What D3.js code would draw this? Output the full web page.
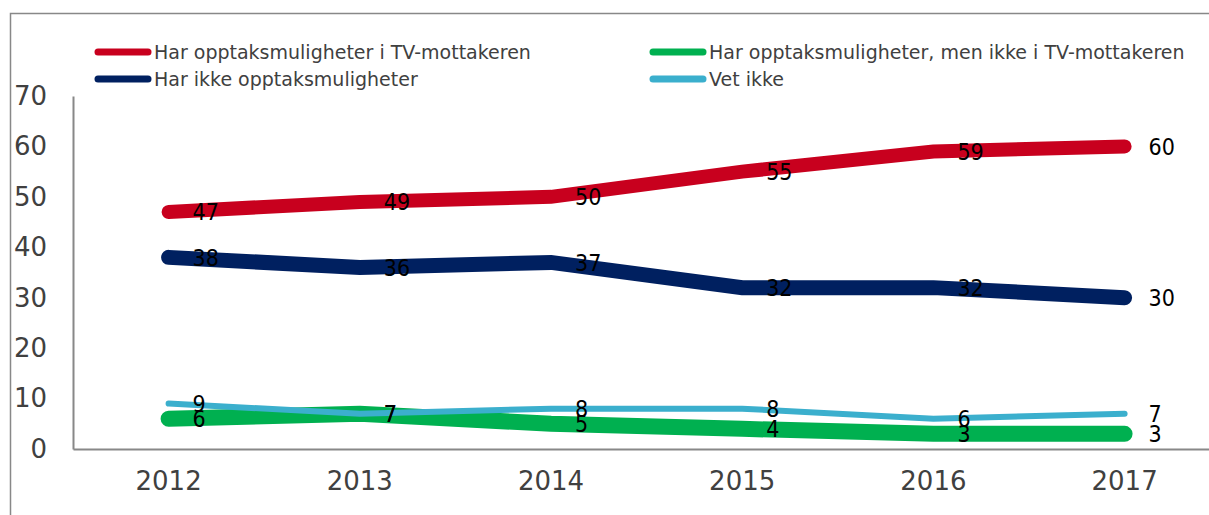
<!DOCTYPE html>
<html><head><meta charset="utf-8">
<script src="https://cdn.jsdelivr.net/npm/d3@7"></script>
<style>body{margin:0;background:#fff}svg{display:block}</style>
</head><body>
<svg id="c" width="1209" height="515"></svg>
<script>
const years = ["2012","2013","2014","2015","2016","2017"];
const seriesNames = ["Har opptaksmuligheter i TV-mottakeren","Har opptaksmuligheter, men ikke i TV-mottakeren","Har ikke opptaksmuligheter","Vet ikke"];
const redVals = [47,49,50,55,59,60];
const greenVals = [6,7,5,4,3,3];
const navyVals = [38,36,37,32,32,30];
const blueVals = [9,7,8,8,6,7];
const yTicks = [0,10,20,30,40,50,60,70];

const svg = d3.select("#c");
const font = "Verdana, 'DejaVu Sans', sans-serif";
// outer frame
svg.append("rect").attr("x",10.5).attr("y",13.5).attr("width",1220).attr("height",520)
  .attr("fill","none").attr("stroke","#888").attr("stroke-width",1.5);

const x = d3.scaleBand().domain(years).range([73, 73+6*191.2]);
const y = d3.scaleLinear().domain([0,70]).range([449, 96]);

// axes
const gy = svg.append("g").attr("transform","translate(73,0)")
  .call(d3.axisLeft(y).tickValues(yTicks).tickSize(0).tickPadding(26));
gy.select(".domain").attr("stroke","#888").attr("stroke-width",2);
gy.selectAll("text").attr("font-family",font).attr("font-size",26).attr("fill","#404040");

const gx = svg.append("g").attr("transform","translate(0,449)")
  .call(d3.axisBottom(x).tickSize(0).tickPadding(23));
gx.select(".domain").attr("stroke","#888").attr("stroke-width",2);
gx.selectAll("text").attr("font-family",font).attr("font-size",26).attr("fill","#404040");

const cx = d => x(d) + x.bandwidth()/2;
const series = [
  {name:seriesNames[0], vals:redVals, color:"#C8001E", w:14},
  {name:seriesNames[2], vals:navyVals, color:"#002060", w:15},
  {name:seriesNames[1], vals:greenVals, color:"#00B050", w:16},
  {name:seriesNames[3], vals:blueVals, color:"#3BAFCD", w:6}
];
const line = d3.line().x((d,i)=>cx(years[i])).y(d=>y(d)).curve(d3.curveLinear);
series.forEach(s=>{
  svg.append("path").attr("d",line(s.vals)).attr("fill","none").attr("stroke",s.color)
    .attr("stroke-width",s.w).attr("stroke-linecap","round").attr("stroke-linejoin","miter");
});
series.forEach(s=>{
  svg.append("g").selectAll("text").data(s.vals).join("text")
    .attr("x",(d,i)=>cx(years[i])+24).attr("y",d=>y(d)).attr("dy","0.36em")
    .attr("font-family","'DejaVu Sans Condensed', sans-serif").attr("font-size",23).attr("fill","#000")
    .text(d=>d);
});

// legend
const legend = [
  {name:seriesNames[0], color:"#C8001E", lx:95, ly:52},
  {name:seriesNames[1], color:"#00B050", lx:650, ly:52},
  {name:seriesNames[2], color:"#002060", lx:95, ly:79},
  {name:seriesNames[3], color:"#3BAFCD", lx:650, ly:79}
];
legend.forEach(l=>{
  svg.append("line").attr("x1",l.lx+3).attr("x2",l.lx+53).attr("y1",l.ly).attr("y2",l.ly)
    .attr("stroke",l.color).attr("stroke-width",7).attr("stroke-linecap","round");
  svg.append("text").attr("x",l.lx+59).attr("y",l.ly).attr("dy","0.36em")
    .attr("font-family",font).attr("font-size",19).attr("fill","#404040").text(l.name);
});
</script>
</body></html>
